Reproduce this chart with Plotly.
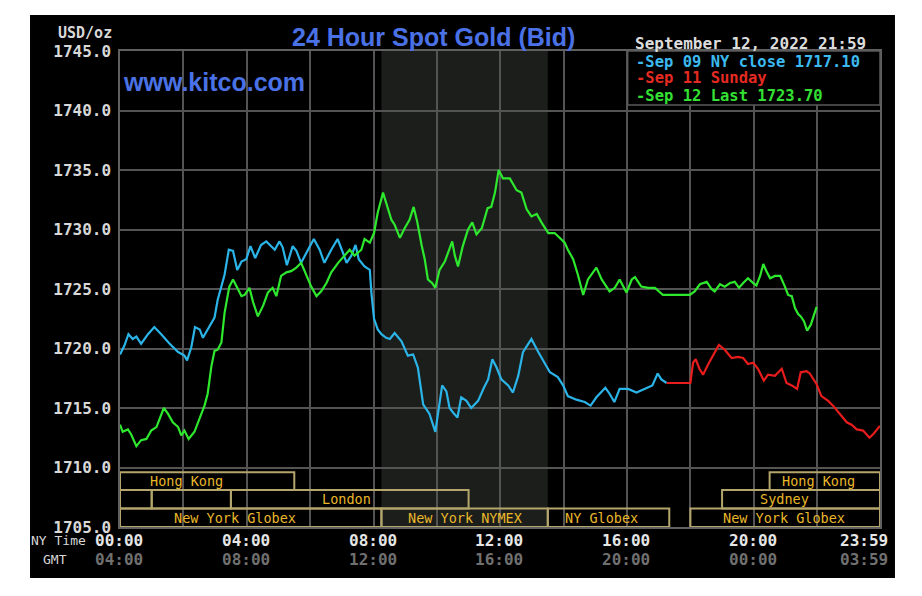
import plotly.graph_objects as go

# ---------------- data (minutes after NY midnight, USD/oz) ----------------
blue_t = [0, 8, 16, 24, 31, 40, 53, 65, 78, 94, 110, 122, 127, 135, 142, 151, 157, 166, 179, 185,
          192, 198, 206, 214, 222, 230, 239, 247, 256, 267, 277, 286, 293, 302, 308, 316, 327, 334,
          343, 356, 367, 378, 387, 400, 412, 420, 429, 438, 446, 452, 463, 473, 476, 481, 488, 495,
          504, 511, 520, 533, 545, 555, 564, 574, 586, 597, 602, 610, 618, 624, 631, 639, 646, 656,
          665, 678, 689, 697, 705, 713, 722, 735, 744, 754, 763, 779, 792, 804, 814, 829, 839, 848,
          864, 880, 891, 902, 919, 927, 936, 946, 962, 978, 994, 1008, 1018, 1025, 1035]
blue_v = [1719.5, 1720.2, 1721.2, 1720.8, 1721.0, 1720.4, 1721.2, 1721.8, 1721.2, 1720.4, 1719.7,
          1719.4, 1719.0, 1720.1, 1721.8, 1721.6, 1720.9, 1721.6, 1722.6, 1724.1, 1725.2, 1726.2,
          1728.3, 1728.2, 1726.6, 1727.3, 1727.5, 1728.6, 1727.6, 1728.7, 1729.0, 1728.6, 1728.3,
          1729.0, 1728.5, 1727.0, 1728.6, 1728.2, 1727.2, 1728.3, 1729.2, 1728.3, 1727.2, 1728.3,
          1729.2, 1728.3, 1727.2, 1727.8, 1728.7, 1727.5, 1726.9, 1726.6, 1724.7, 1722.5, 1721.6,
          1721.2, 1720.9, 1720.8, 1721.3, 1720.6, 1719.4, 1719.5, 1718.4, 1715.3, 1714.5, 1713.0,
          1714.6, 1716.9, 1716.4, 1715.0, 1714.6, 1714.2, 1715.9, 1715.6, 1715.0, 1715.6, 1716.7,
          1717.4, 1719.1, 1718.4, 1717.4, 1716.9, 1716.3, 1717.7, 1719.7, 1720.8, 1719.7, 1718.7,
          1718.0, 1717.6, 1716.9, 1716.0, 1715.7, 1715.5, 1715.2, 1715.9, 1716.7, 1716.2, 1715.5,
          1716.6, 1716.6, 1716.3, 1716.6, 1716.9, 1717.9, 1717.4, 1717.1]

red_t = [1035, 1080, 1085, 1090, 1097, 1104, 1114, 1123, 1134, 1145, 1158, 1170, 1180, 1189, 1199,
         1208, 1219, 1227, 1240, 1253, 1262, 1272, 1282, 1289, 1300, 1306, 1319, 1328, 1341, 1350,
         1363, 1376, 1385, 1395, 1407, 1419, 1426, 1439]
red_v = [1717.1, 1717.1, 1718.8, 1719.1, 1718.3, 1717.8, 1718.7, 1719.4, 1720.3, 1719.9, 1719.2,
         1719.3, 1719.2, 1718.7, 1718.8, 1718.3, 1717.3, 1717.8, 1717.7, 1718.3, 1717.1, 1716.9,
         1716.6, 1718.0, 1718.1, 1717.9, 1717.0, 1716.0, 1715.6, 1715.2, 1714.5, 1713.8, 1713.6,
         1713.2, 1713.1, 1712.5, 1712.8, 1713.5]

green_t = [0, 5, 15, 21, 31, 40, 50, 59, 69, 75, 83, 91, 100, 110, 116, 122, 130, 141, 151, 160,
           166, 173, 179, 185, 192, 198, 207, 214, 222, 230, 236, 245, 252, 261, 271, 280, 289, 296,
           305, 315, 324, 334, 343, 353, 362, 372, 381, 391, 400, 413, 425, 435, 444, 457, 463, 473,
           481, 488, 498, 507, 514, 520, 530, 539, 548, 556, 563, 571, 577, 583, 591, 597, 605, 615,
           621, 629, 634, 640, 649, 659, 667, 675, 685, 696, 703, 710, 717, 725, 738, 751, 760, 770,
           779, 789, 798, 811, 823, 833, 842, 848, 858, 867, 877, 886, 902, 912, 927, 937, 946, 959,
           969, 975, 987, 1000, 1013, 1028, 1079, 1088, 1098, 1111, 1120, 1126, 1136, 1145, 1155,
           1164, 1172, 1180, 1189, 1199, 1205, 1212, 1218, 1224, 1231, 1240, 1250, 1259, 1265, 1272,
           1278, 1284, 1289, 1295, 1301, 1308, 1313, 1319]
green_v = [1713.6, 1713.0, 1713.2, 1712.8, 1711.8, 1712.3, 1712.4, 1713.1, 1713.4, 1714.1, 1715.0,
           1714.5, 1713.8, 1713.4, 1712.7, 1713.1, 1712.4, 1713.0, 1714.2, 1715.2, 1716.2, 1718.5,
           1719.8, 1719.9, 1720.5, 1723.0, 1725.2, 1725.8, 1725.1, 1724.4, 1724.5, 1725.1, 1723.9,
           1722.7, 1723.6, 1724.7, 1725.1, 1724.4, 1726.1, 1726.4, 1726.5, 1726.8, 1727.2, 1726.1,
           1725.2, 1724.4, 1724.8, 1725.5, 1726.4, 1727.2, 1727.8, 1728.3, 1727.8, 1728.3, 1729.2,
           1728.9, 1729.7, 1731.4, 1733.1, 1731.9, 1730.8, 1730.4, 1729.3, 1730.1, 1730.8, 1731.9,
           1730.6, 1728.7, 1727.5, 1725.8, 1725.5, 1725.1, 1726.6, 1727.3, 1728.0, 1729.0, 1727.8,
           1726.9, 1728.6, 1730.0, 1730.6, 1729.6, 1730.1, 1731.8, 1731.9, 1733.1, 1735.0, 1734.3,
           1734.3, 1733.3, 1733.1, 1731.7, 1731.1, 1731.3, 1730.6, 1729.7, 1729.7, 1729.3, 1728.9,
           1728.3, 1727.5, 1726.2, 1724.5, 1725.8, 1726.8, 1725.8, 1724.8, 1725.1, 1725.8, 1724.7,
           1725.8, 1726.0, 1725.2, 1725.1, 1725.1, 1724.5, 1724.5, 1724.8, 1725.4, 1725.6, 1725.0,
           1724.8, 1725.4, 1725.2, 1725.5, 1725.6, 1725.1, 1725.5, 1725.9, 1725.5, 1725.3, 1726.1,
           1727.1, 1726.5, 1725.9, 1726.1, 1726.1, 1725.2, 1724.5, 1724.4, 1723.4, 1722.9, 1722.7,
           1722.3, 1721.5, 1722.0, 1722.7, 1723.5]

legend_labels = ["-Sep 09 NY close 1717.10", "-Sep 11 Sunday", "-Sep 12 Last 1723.70"]
series_colors = ["#2ab4e8", "#e81c1c", "#2ee82e"]
legend_text_colors = ["#3cb9ef", "#e42a22", "#33e033"]

y_ticks = [1705, 1710, 1715, 1720, 1725, 1730, 1735, 1740, 1745]
ny_tick_pos = [0, 240, 480, 720, 960, 1200, 1439]
ny_tick_text = ["00:00", "04:00", "08:00", "12:00", "16:00", "20:00", "23:59"]
gmt_tick_text = ["04:00", "08:00", "12:00", "16:00", "20:00", "00:00", "03:59"]

nymex_open, nymex_close = 495, 810

# trading sessions: row (0 = top), start, end (minutes)
session_row = [0, 0, 1, 1, 1, 1, 2, 2, 2, 2]
session_start = [0, 1230, 0, 60, 210, 1140, 0, 495, 810, 1080]
session_end = [330, 1439, 60, 210, 660, 1439, 495, 810, 1040, 1439]
row_top = [1709.6, 1708.1, 1706.55]
row_bottom = [1708.1, 1706.55, 1705.0]
label_text = ["Hong Kong", "Hong Kong", "London", "Sydney", "New York Globex",
              "New York NYMEX", "NY Globex", "New York Globex"]
label_row = [0, 0, 1, 1, 2, 2, 2, 2]
label_pos = [126, 1322, 429, 1258, 218, 653, 911, 1258]

MONO = "DejaVu Sans Mono"

fig = go.Figure()
for t, v, c in [(blue_t, blue_v, series_colors[0]), (red_t, red_v, series_colors[1]),
                (green_t, green_v, series_colors[2])]:
    fig.add_trace(go.Scatter(x=t, y=v, mode="lines", line=dict(color=c, width=2.2),
                             showlegend=False, hoverinfo="skip"))

shapes = []
# black panel behind whole chart
shapes.append(dict(type="rect", xref="paper", yref="paper", x0=-0.1184, x1=1.0197,
                   y0=-0.1071, y1=1.0756, fillcolor="black", line=dict(width=0), layer="below"))
# NYMEX shading
shapes.append(dict(type="rect", xref="x", yref="paper", x0=nymex_open, x1=nymex_close, y0=0, y1=1,
                   fillcolor="#1b1e1b", line=dict(width=0), layer="below"))
# session boxes
for r, s, e in zip(session_row, session_start, session_end):
    shapes.append(dict(type="rect", xref="x", yref="y", x0=s, x1=e, y0=row_bottom[r], y1=row_top[r],
                       line=dict(color="#b3a56b", width=2), fillcolor="rgba(0,0,0,0)"))
# legend box
shapes.append(dict(type="rect", xref="paper", yref="paper", x0=0.668, x1=1.0, y0=0.8866, y1=1.0,
                   fillcolor="black", line=dict(color="#5a5a5a", width=1.5)))

ann = []


def note(**kw):
    kw.setdefault("showarrow", False)
    kw.setdefault("yanchor", "middle")
    kw.setdefault("borderpad", 0)
    kw.setdefault("borderwidth", 0)
    ann.append(kw)


for txt, r, p in zip(label_text, label_row, label_pos):
    note(x=p, y=(row_top[r] + row_bottom[r]) / 2, xref="x", yref="y", text=txt, xanchor="center",
         font=dict(family=MONO, size=13.5, color="#e9b72a"))
for i, (p, a, g) in enumerate(zip(ny_tick_pos, ny_tick_text, gmt_tick_text)):
    last = i == len(ny_tick_pos) - 1
    note(x=p, y=-0.0294, xref="x", yref="paper", text=a,
         xanchor="right" if last else "center", xshift=8 if last else -1,
         font=dict(family=MONO, size=16, color="#e6e6e6", weight="bold"))
    note(x=p, y=-0.0693, xref="x", yref="paper", text=g,
         xanchor="right" if last else "center", xshift=8 if last else -1,
         font=dict(family=MONO, size=16, color="#707070", weight="bold"))
note(x=-0.1171, y=-0.0294, xref="paper", yref="paper", text="NY Time",
     xanchor="left", font=dict(family=MONO, size=13, color="#d8d8d8"))
note(x=-0.1013, y=-0.0693, xref="paper", yref="paper", text="GMT",
     xanchor="left", font=dict(family=MONO, size=13, color="#d8d8d8"))
note(x=-0.0105, y=1.038, xref="paper", yref="paper", text="USD/oz",
     xanchor="right", font=dict(family=MONO, size=15, color="#d8d8d8", weight="bold"))
note(x=0.412, y=1.029, xref="paper", yref="paper", text="24 Hour Spot Gold (Bid)",
     xanchor="center", font=dict(family="Liberation Sans", size=25, color="#4a72e6", weight="bold"))
note(x=0.004, y=0.935, xref="paper", yref="paper", text="www.kitco.com",
     xanchor="left", font=dict(family="Liberation Sans", size=25, color="#4a72e6", weight="bold"))
note(x=0.6776, y=1.0168, xref="paper", yref="paper", text="September 12, 2022 21:59",
     xanchor="left", font=dict(family=MONO, size=16, color="#dcdcdc", weight="bold"))
for txt, col, yy in zip(legend_labels, legend_text_colors, [0.9775, 0.9426, 0.9061]):
    note(x=0.679, y=yy, xref="paper", yref="paper", text=txt,
         xanchor="left", font=dict(family=MONO, size=15.5, color=col, weight="bold"))

fig.update_layout(
    width=922, height=596, autosize=False,
    margin=dict(l=120, r=42, t=51, b=69, pad=0),
    paper_bgcolor="white", plot_bgcolor="black",
    shapes=shapes, annotations=ann, showlegend=False,
    xaxis=dict(range=[0, 1439], tick0=0, dtick=120, showticklabels=False, ticks="",
               showgrid=True, gridcolor="#545454", gridwidth=1.5, zeroline=False,
               showline=True, mirror=True, linecolor="#606060", linewidth=1.5),
    yaxis=dict(range=[1705, 1745], tickvals=y_ticks, ticktext=[f"{v:.1f}" for v in y_ticks],
               tickfont=dict(family=MONO, size=16, color="#d8d8d8", weight="bold"),
               ticks="outside", ticklen=4, tickcolor="black",
               showgrid=True, gridcolor="#545454", gridwidth=1.5, zeroline=False,
               showline=True, mirror=True, linecolor="#606060", linewidth=1.5),
)

fig.write_html("out.html")
